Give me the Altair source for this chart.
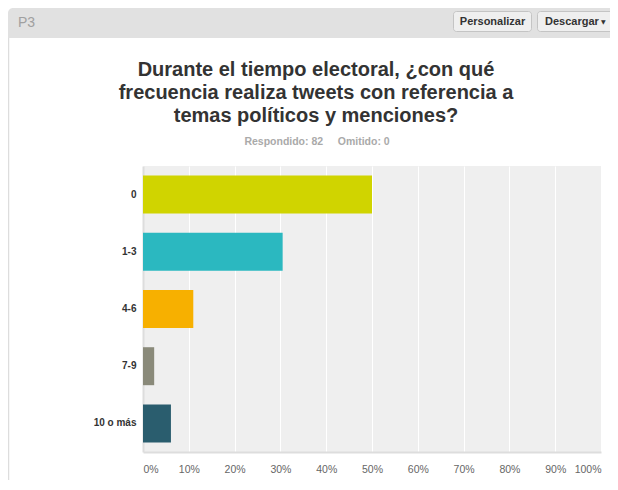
import altair as alt
import pandas as pd

categories = ["0", "1-3", "4-6", "7-9", "10 o más"]
percentages = [50.00, 30.49, 10.98, 2.44, 6.10]
colors = ["#d0d400", "#2bb8c0", "#f7b000", "#8a8a7a", "#2a5d6e"]
x_ticks = [0, 10, 20, 30, 40, 50, 60, 70, 80, 90, 100]
title_lines = [
    "Durante el tiempo electoral, ¿con qué",
    "frecuencia realiza tweets con referencia a",
    "temas políticos y menciones?",
]
subtitle = "Respondido: 82\u00a0\u00a0\u00a0\u00a0\u00a0Omitido: 0"

FONT = "Liberation Sans"

df = pd.DataFrame({"cat": categories, "pct": percentages})

bars = alt.Chart(df).mark_bar().encode(
    y=alt.Y("cat:N", sort=categories,
            scale=alt.Scale(paddingInner=0.336, paddingOuter=0.168),
            axis=alt.Axis(title=None, ticks=False, labelFont=FONT, labelFontSize=10,
                          labelFontWeight="bold", labelColor="#333333", labelPadding=7,
                          domainColor="#dddddd", domainWidth=2, grid=False)),
    x=alt.X("pct:Q", scale=alt.Scale(domain=[0, 100], nice=False),
            axis=alt.Axis(title=None, values=x_ticks, labelExpr="datum.value + '%'",
                          ticks=False, labelFont=FONT, labelFontSize=10.5,
                          labelColor="#666666", labelPadding=12, labelFlush=True,
                          domainColor="#dddddd", domainWidth=2,
                          grid=True, gridColor="#ffffff", gridWidth=1)),
    color=alt.Color("cat:N", sort=categories,
                    scale=alt.Scale(domain=categories, range=colors), legend=None),
)

one = alt.Data(values=[{}])
OX, OY = 143, 166  # page position of plot origin (for decorations)

def px(v):
    return v - OX

def py(v):
    return v - OY

header = alt.Chart(one).mark_rect(
    color="#e1e1e1", cornerRadiusTopLeft=5
).encode(x=alt.value(px(8)), x2=alt.value(px(620)), y=alt.value(py(8)), y2=alt.value(py(38)))

left_line = alt.Chart(one).mark_rule(color="#dddddd", strokeWidth=1.5).encode(
    x=alt.value(px(8.5)), y=alt.value(py(38)), y2=alt.value(py(492)))

p3 = alt.Chart(one).mark_text(
    text="P3", font=FONT, fontSize=14, color="#a0a0a0", align="left", baseline="middle"
).encode(x=alt.value(px(18)), y=alt.value(py(23)))

btn1 = alt.Chart(one).mark_rect(
    color="#efefef", stroke="#c4c4c4", strokeWidth=1, cornerRadius=3
).encode(x=alt.value(px(453.5)), x2=alt.value(px(531.5)), y=alt.value(py(11.5)), y2=alt.value(py(31.5)))
btn2 = alt.Chart(one).mark_rect(
    color="#efefef", stroke="#c4c4c4", strokeWidth=1, cornerRadius=3
).encode(x=alt.value(px(537.5)), x2=alt.value(px(616.5)), y=alt.value(py(11.5)), y2=alt.value(py(31.5)))
btn1_text = alt.Chart(one).mark_text(
    text="Personalizar", font=FONT, fontSize=11, fontWeight="bold", color="#333333",
    align="center", baseline="middle"
).encode(x=alt.value(px(492.5)), y=alt.value(py(21.5)))
btn2_text = alt.Chart(one).mark_text(
    text="Descargar", font=FONT, fontSize=11, fontWeight="bold", color="#333333",
    align="left", baseline="middle"
).encode(x=alt.value(px(545)), y=alt.value(py(21.5)))
btn2_arrow = alt.Chart(one).mark_text(
    text="▼", font="DejaVu Sans", fontSize=6, color="#333333",
    align="left", baseline="middle"
).encode(x=alt.value(px(601)), y=alt.value(py(22)))

title_df = pd.DataFrame({"line": title_lines, "i": list(range(len(title_lines)))})
title = alt.Chart(title_df).mark_text(
    font=FONT, fontSize=20, fontWeight="bold", color="#333333",
    align="center", baseline="alphabetic"
).encode(
    text="line:N",
    x=alt.value(px(316)),
    y=alt.Y("i:Q", scale=alt.Scale(domain=[0, 2], range=[py(76), py(122)], nice=False, zero=False), axis=None),
)

sub = alt.Chart(one).mark_text(
    text=subtitle, font=FONT, fontSize=10.5, fontWeight="bold", color="#aaaaaa",
    align="center", baseline="alphabetic"
).encode(x=alt.value(px(317)), y=alt.value(py(145)))

chart = alt.layer(
    header, left_line, p3, btn1, btn2, btn1_text, btn2_text, btn2_arrow, title, sub, bars
).resolve_scale(y="independent", color="independent").properties(
    width=458, height=286,
    autosize=alt.AutoSizeParams(type="none"),
    padding={"left": 135, "top": 158, "right": 9, "bottom": 28},
    background="#ffffff",
).configure_view(fill="#efefef", stroke=None)

chart.save("out.html", embed_options={"renderer": "svg", "actions": False})
